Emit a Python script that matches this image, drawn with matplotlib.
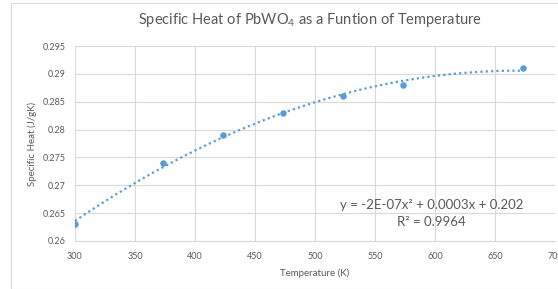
import numpy as np
import matplotlib
matplotlib.use("Agg")
import matplotlib.pyplot as plt
from matplotlib.patches import Rectangle

# Datos medidos
temperature = [300, 373, 423, 473, 523, 573, 673]
specific_heat = [0.263, 0.274, 0.279, 0.283, 0.286, 0.288, 0.291]
x_ticks = [300, 350, 400, 450, 500, 550, 600, 650, 700]
y_ticks = [0.26, 0.265, 0.27, 0.275, 0.28, 0.285, 0.29, 0.295]
y_tick_labels = ["0.26", "0.265", "0.27", "0.275", "0.28", "0.285", "0.29", "0.295"]
equation = "y = -2E-07x² + 0.0003x + 0.202"
r_squared = "R² = 0.9964"

plt.rcParams['font.family'] = ['Lato', 'DejaVu Sans']
plt.rcParams['mathtext.fontset'] = 'custom'
plt.rcParams['mathtext.rm'] = 'Lato'

W, H = 558, 289
fig = plt.figure(figsize=(W / 100, H / 100), dpi=100)
text_col = '#595959'
grid_col = '#d9d9d9'
blue = '#5b9bd5'

# borde del grafico (celdas de la hoja)
fig.patches.append(Rectangle((11 / W, 0), 1, 1 - 3 / H, transform=fig.transFigure,
                             fill=False, edgecolor='#d9d9d9', lw=0.8))

ax = fig.add_axes([75 / W, (H - 241) / H, (555 - 75) / W, (241 - 46) / H])

# linea de tendencia polinomica (orden 2)
coef = np.polyfit(temperature, specific_heat, 2)
xs = np.linspace(min(temperature), max(temperature), 200)
ax.plot(xs, np.polyval(coef, xs), linestyle=(0, (1, 1.4)), color=blue, lw=1.6, zorder=2)
ax.scatter(temperature, specific_heat, s=22, color=blue, zorder=3, linewidths=0)

ax.set_xlim(300, 700)
ax.set_ylim(0.26, 0.295)
ax.set_xticks(x_ticks)
ax.set_yticks(y_ticks)
ax.set_yticklabels(y_tick_labels)
ax.grid(True, color=grid_col, lw=0.8)
ax.set_axisbelow(True)
for s in ['top', 'right', 'left']:
    ax.spines[s].set_visible(False)
ax.spines['bottom'].set_color(grid_col)
ax.tick_params(length=0, labelsize=6.5, colors=text_col, pad=7)
ax.tick_params(axis='x', pad=8)

ax.set_xlabel('Temperature (K)', fontsize=7, color=text_col, labelpad=5)
ax.set_ylabel('Specific Heat (J/gK)', fontsize=7, color=text_col, labelpad=4)

fig.text(310 / W, 1 - 20 / H, 'Specific Heat of PbWO$_4$ as a Funtion of Temperature',
         ha='center', va='center', fontsize=10.5, color=text_col)

# ecuacion y R^2 de la tendencia
ax.text(597, 0.2665, equation, ha='center', va='center', fontsize=9.5, color=text_col)
ax.text(597, 0.2634, r_squared, ha='center', va='center', fontsize=9.5, color=text_col)

fig.savefig('out.png', dpi=100)
